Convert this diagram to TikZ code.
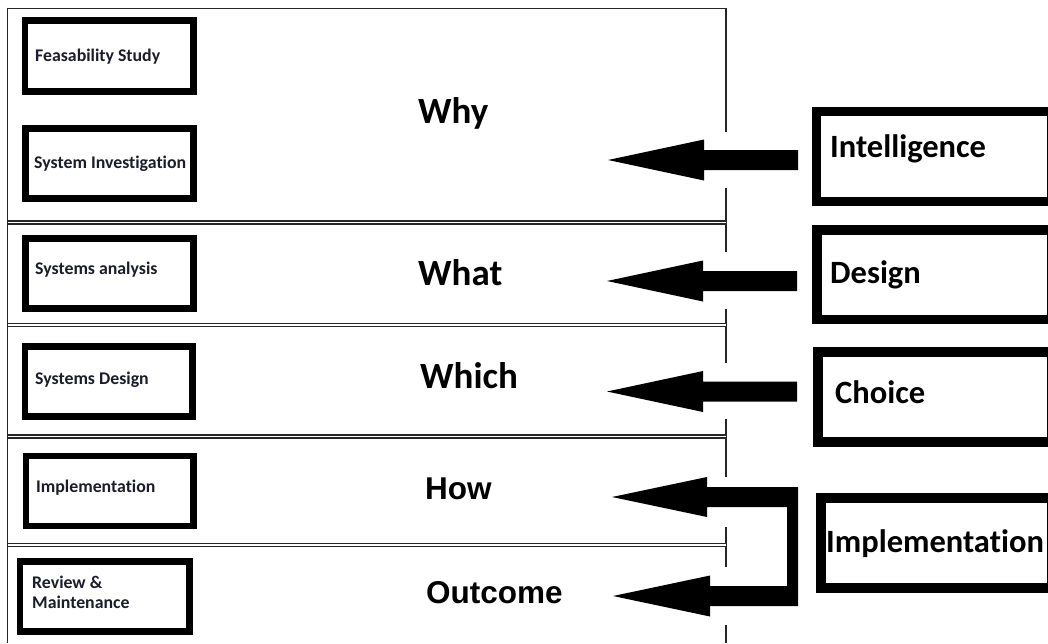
\documentclass[tikz,border=0pt]{standalone}
\usepackage{fontspec}
\setmainfont{Carlito}[Ligatures={NoCommon}]
\newfontfamily\arialf{Liberation Sans}
\definecolor{txt}{HTML}{1C1C2A}
\begin{document}
\begin{tikzpicture}[x=1pt,y=-1pt,
  lbox/.style={draw, line width=6.5pt, inner sep=0pt, outer sep=0pt},
  rbox/.style={draw, line width=9.5pt, inner sep=0pt, outer sep=0pt},
  stext/.style={anchor=base west, inner sep=0pt, text=txt, font=\bfseries\fontsize{17.8}{21}\selectfont},
  big/.style={anchor=base west, inner sep=0pt, font=\bfseries\fontsize{37}{40}\selectfont},
  bigA/.style={anchor=base west, inner sep=0pt, font=\arialf\bfseries\fontsize{31.5}{36}\selectfont},
  rtext/.style={anchor=base west, inner sep=0pt, font=\bfseries\fontsize{32.5}{36}\selectfont},
  frame/.style={line width=1.6pt, black!85},
  sepline/.style={line width=1.2pt, double distance=1.8pt, draw=black!85, double=white},
  blockarrow/.pic={\fill (0,0) -- (96,-20.5) -- (96,-10) -- (190,-10) -- (190,10) -- (96,10) -- (96,20.5) -- cycle;}
]
\useasboundingbox (0,0) rectangle (1048,643);
\clip (0,0) rectangle (1048,643);
\fill[white] (0,0) rectangle (1048,643);

% outer frame
\draw[frame] (7.5,8.3) -- (726,8.3);
\draw[frame] (7.5,7.5) -- (7.5,643);
\draw[frame] (726,7.5) -- (726,132);
\draw[frame] (726,188) -- (726,252);
\draw[frame] (726,309) -- (726,363);
\draw[frame] (726,419) -- (726,477);
\draw[frame] (726,527) -- (726,567);
\draw[frame] (726,625) -- (726,643);

% separators
\draw[sepline] (8.3,222.5) -- (726,222.5);
\draw[sepline] (8.3,325) -- (726,325);
\draw[sepline] (8.3,436.5) -- (726,436.5);
\draw[sepline] (8.3,545) -- (726,545);

% left boxes
\node[lbox, minimum width=168.3pt, minimum height=71pt] (feas) at (109.2,56.2) {};
\node[stext] (feasT) at (35,61.5) {Feasability Study};
\node[lbox, minimum width=168.4pt, minimum height=70.4pt] (sysinv) at (109.5,163.5) {};
\node[stext] (sysinvT) at (34,168.5) {System Investigation};
\node[lbox, minimum width=168.4pt, minimum height=70pt] (sysan) at (109.5,273.3) {};
\node[stext] (sysanT) at (35,274.5) {Systems analysis};
\node[lbox, minimum width=167.7pt, minimum height=70.1pt] (sysdes) at (108.8,381.6) {};
\node[stext] (sysdesT) at (35,384.5) {Systems Design};
\node[lbox, minimum width=167.3pt, minimum height=70pt] (impl) at (109.6,491) {};
\node[stext] (implT) at (36,492.5) {Implementation};
\node[lbox, minimum width=169.3pt, minimum height=70pt] (review) at (104.6,596.7) {};
\node[stext] (reviewT) at (32,588.5) {Review \&};
\node[stext] (reviewT2) at (32,608.5) {Maintenance};

% middle labels
\node[big] (why) at (418,123) {Why};
\node[big] (what) at (418,285) {What};
\node[big] (which) at (420,388) {Which};
\node[bigA] (how) at (425,499) {How};
\node[bigA] (outcome) at (426,603) {Outcome};

% right boxes
\node[rbox, minimum width=235.5pt, minimum height=90pt] (intel) at (934.25,156.5) {};
\node[rtext] (intelT) at (830,157) {Intelligence};
\node[rbox, minimum width=235pt, minimum height=89.5pt] (design) at (934.5,274.75) {};
\node[rtext] (designT) at (830,283) {Design};
\node[rbox, minimum width=234pt, minimum height=90pt] (choice) at (935,397) {};
\node[rtext] (choiceT) at (835,403) {Choice};
\node[rbox, minimum width=231pt, minimum height=90pt] (implR) at (936.5,543) {};
\node[rtext] (implRT) at (826,552) {Implementation};

% arrows
\coordinate (tip1) at (608,160);
\coordinate (tip2) at (607,281);
\coordinate (tip3) at (607,391.5);
\pic at (tip1) {blockarrow};
\pic at (tip2) {blockarrow};
\pic at (tip3) {blockarrow};

\coordinate (tip4) at (612,497);
\coordinate (tip5) at (613,596);
\fill (tip4) -- (707,477) -- (707,487) -- (798,487) -- (798,606) -- (710,606) -- (710,616.5)
  -- (tip5) -- (710,575.5) -- (710,586) -- (787,586) -- (787,507) -- (707,507) -- (707,517) -- cycle;
\end{tikzpicture}
\end{document}
